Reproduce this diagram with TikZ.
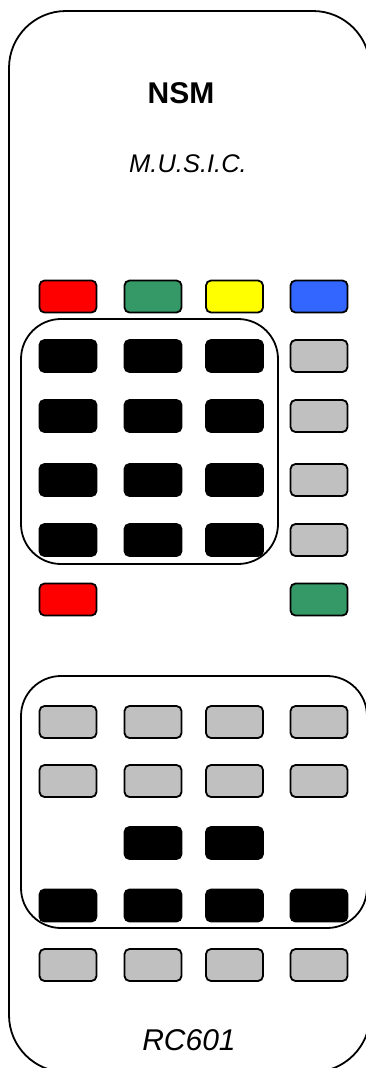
\documentclass[tikz,border=0pt]{standalone}
\usepackage{fontspec}
\setmainfont{Liberation Sans}
\definecolor{bred}{HTML}{FF0000}
\definecolor{bgreen}{HTML}{349966}
\definecolor{byellow}{HTML}{FFFF00}
\definecolor{bblue}{HTML}{3366FF}
\definecolor{bgrey}{HTML}{C0C0C0}
\tikzset{
  body/.style={draw=black, line width=1.8pt, rounded corners=57pt, fill=white},
  grp/.style={draw=black, line width=1.8pt, rounded corners=40pt, inner sep=0pt},
  btn/.style={draw=black, line width=1.8pt, rounded corners=5pt, minimum width=57pt, minimum height=32pt, inner sep=0pt},
  blk/.style={btn, fill=black},
  gry/.style={btn, fill=bgrey},
}
\begin{document}
\begin{tikzpicture}[x=1pt,y=-1pt]
\useasboundingbox (0,0) rectangle (366,1068);
\clip (0,0) rectangle (366,1068);
\fill[white] (0,0) rectangle (366,1068);
\node[body, minimum width=361pt, minimum height=1061pt, inner sep=0pt] (remote) at (189.5,541.5) {};
\node[grp, minimum width=257pt, minimum height=245pt] (g1) at (149.5,441.5) {};
\node[grp, minimum width=346pt, minimum height=252pt] (g2) at (194,802) {};
% top colour row
\node[btn, fill=bred] (c1) at (68,296.5) {};
\node[btn, fill=bgreen] (c2) at (153,296.5) {};
\node[btn, fill=byellow] (c3) at (234.5,296.5) {};
\node[btn, fill=bblue] (c4) at (319,296.5) {};
% numeric block
\foreach \r/\y in {1/356,2/416,3/480,4/540}{
  \node[blk] (n\r a) at (68,\y) {};
  \node[blk] (n\r b) at (153,\y) {};
  \node[blk] (n\r c) at (234.5,\y) {};
  \node[gry] (s\r) at (319,\y) {};
}
\node[btn, fill=bred] (r1) at (68,599.5) {};
\node[btn, fill=bgreen] (r2) at (319,599.5) {};
% lower block
\foreach \r/\y in {1/722,2/781}{
  \node[gry] (l\r a) at (68,\y) {};
  \node[gry] (l\r b) at (153,\y) {};
  \node[gry] (l\r c) at (234.5,\y) {};
  \node[gry] (l\r d) at (319,\y) {};
}
\node[blk] (m1) at (153,843) {};
\node[blk] (m2) at (234.5,843) {};
\node[blk] (p1) at (68,905.5) {};
\node[blk] (p2) at (153,905.5) {};
\node[blk] (p3) at (234.5,905.5) {};
\node[blk] (p4) at (319,905.5) {};
\node[gry] (q1) at (68,965) {};
\node[gry] (q2) at (153,965) {};
\node[gry] (q3) at (234.5,965) {};
\node[gry] (q4) at (319,965) {};
% texts
\node[font=\fontsize{30}{32}\selectfont\bfseries, anchor=base, inner sep=0pt] (brand) at (181,103.5) {NSM};
\node[font=\fontsize{25.5}{27}\selectfont\itshape, anchor=base, inner sep=0pt] (model) at (188,172.5) {M.U.S.I.C.};
\node[font=\fontsize{30}{32}\selectfont\itshape, anchor=base, inner sep=0pt] (code) at (189,1050) {RC601};
\end{tikzpicture}
\end{document}
